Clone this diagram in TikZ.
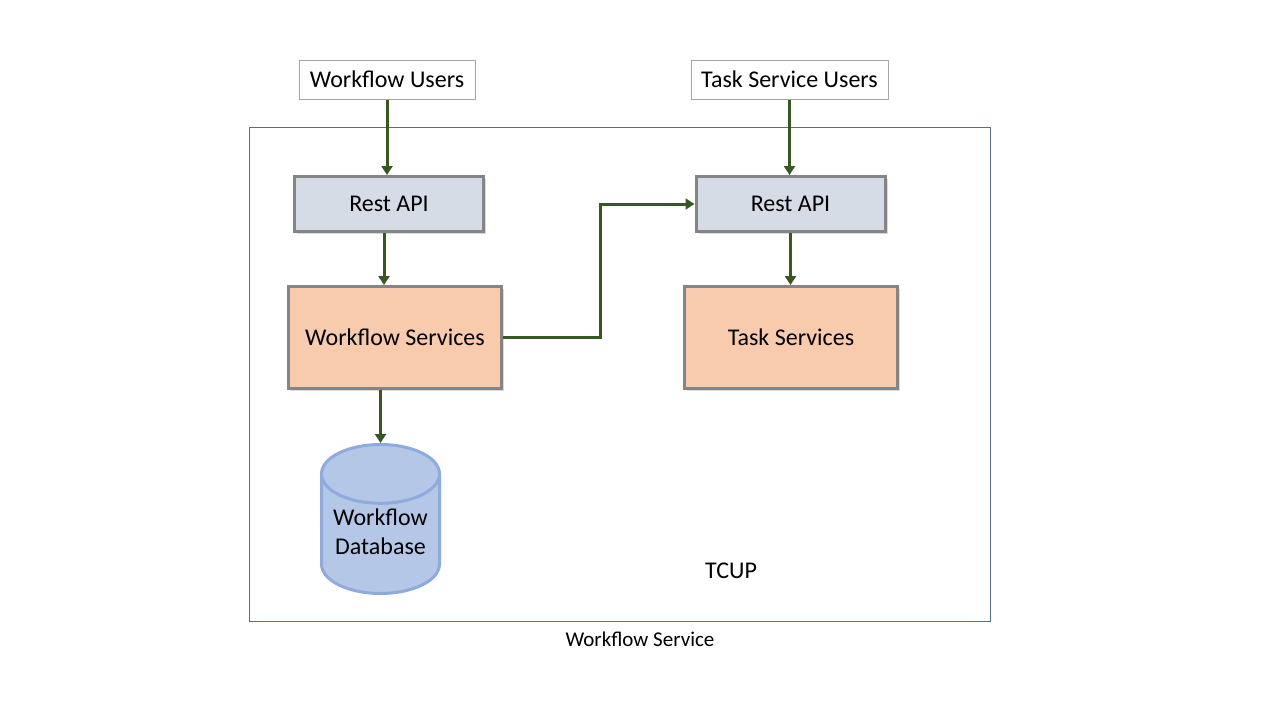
\documentclass[tikz,border=0pt]{standalone}
\usepackage{fontspec}
\setmainfont{Carlito}
\usetikzlibrary{shapes.geometric,shadows,arrows.meta}
\definecolor{apiblue}{HTML}{D6DCE5}
\definecolor{svcorange}{HTML}{F8CBAD}
\definecolor{boxgray}{HTML}{858585}
\definecolor{dbblue}{HTML}{B4C7E7}
\definecolor{dbedge}{HTML}{8FAADC}
\definecolor{flowgreen}{HTML}{385723}
\definecolor{framecol}{HTML}{50708E}
\tikzset{
  userbox/.style={rectangle, draw=gray!70, line width=1pt, fill=white},
  apibox/.style={rectangle, draw=boxgray, line width=3pt, fill=apiblue,
    minimum width=189pt, minimum height=55pt,
    drop shadow={opacity=0.3, shadow xshift=2.5pt, shadow yshift=-2.5pt}},
  svcbox/.style={rectangle, draw=boxgray, line width=3pt, fill=svcorange,
    minimum width=213pt, minimum height=102pt,
    drop shadow={opacity=0.3, shadow xshift=2.5pt, shadow yshift=-2.5pt}},
  flow/.style={draw=flowgreen, line width=3pt, -{Triangle[width=11pt,length=9pt]}}
}
\begin{document}
\begin{tikzpicture}[x=1pt, y=-1pt, font=\fontsize{24}{29}\selectfont]
        \useasboundingbox (0,0) rectangle (1280,720);
        % Frame
        \draw[framecol, line width=1pt] (249,127) rectangle (990,621);

        % Nodes
        \node (wfusers) [userbox, minimum width=176pt, minimum height=39pt] at (387,79.5) {Workflow Users};
        \node (tsusers) [userbox, minimum width=197pt, minimum height=39pt] at (789.5,79.5) {Task Service Users};
        \node (apiL) [apibox] at (389,204) {Rest API};
        \node (apiR) [apibox] at (790.5,204) {Rest API};
        \node (wfsvc) [svcbox] at (395,337.5) {Workflow Services};
        \node (tsvc) [svcbox] at (791,337.5) {Task Services};
        \node (db) [cylinder, shape border rotate=90, aspect=0.58, draw=dbedge, line width=3pt, fill=dbblue,
          minimum width=118pt, minimum height=149pt, anchor=shape center] at (380.5,519)
          {\raisebox{5pt}[\height][\depth]{\begin{tabular}{@{}c@{}}Workflow\\Database\end{tabular}}};
        \node (tcup) at (731,571) {TCUP};
        \node (caption) [font=\fontsize{21}{25}\selectfont] at (640,639) {Workflow Service};

        % Edges
        \draw[flow] (wfusers.south) -- (wfusers.south |- apiL.north);
        \draw[flow] ([xshift=-5pt]apiL.south) -- ([xshift=-5pt]apiL.south |- wfsvc.north);
        \draw[flow] (db.north |- wfsvc.south) -- (db.north);
        \draw[flow] (tsusers.south) -- (tsusers.south |- apiR.north);
        \draw[flow] (apiR.south) -- (apiR.south |- tsvc.north);
        \draw[flow] (wfsvc.east) -- ++(97,0) |- (apiR.west);

    \end{tikzpicture}
\end{document}
